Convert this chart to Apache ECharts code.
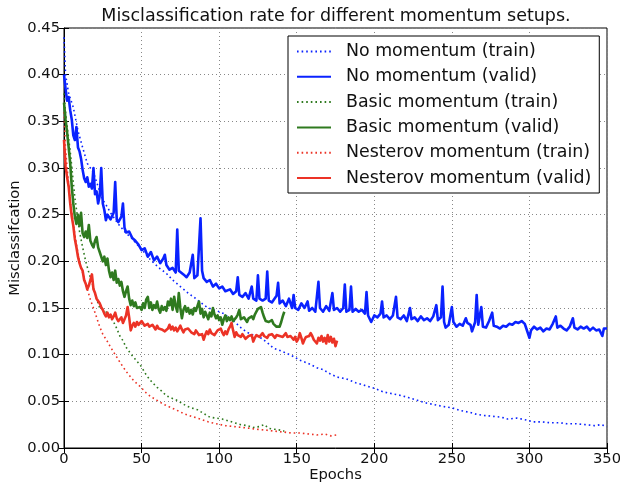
<!DOCTYPE html>
<html><head><meta charset="utf-8">
<script src="https://cdn.jsdelivr.net/npm/echarts@6/dist/echarts.min.js"></script>
<style>html,body{margin:0;padding:0;background:#fff}#c{width:620px;height:484px}</style>
</head><body><div id="c"></div>
<script>
// ---- data (epoch, misclassification) ----
const xTicks = [0, 50, 100, 150, 200, 250, 300, 350];
const yTicks = [0.00, 0.05, 0.10, 0.15, 0.20, 0.25, 0.30, 0.35, 0.40, 0.45];
const seriesNames = ['No momentum (train)', 'No momentum (valid)', 'Basic momentum (train)', 'Basic momentum (valid)', 'Nesterov momentum (train)', 'Nesterov momentum (valid)'];

const noMomTrain = [[0,0.440],[1,0.400],[3,0.380],[6,0.365],[9,0.340],[12,0.322],[15,0.305],[19,0.295],[22,0.280],[25,0.266],[28,0.258],[30,0.252],[35,0.240],[40,0.230],[43,0.226],[46,0.220],[50,0.213],[55,0.203],[58,0.198],[62,0.192],[66,0.187],[70,0.180],[75,0.173],[80,0.166],[85,0.160],[88,0.156],[92,0.151],[96,0.148],[100,0.146],[103,0.144],[106,0.140],[110,0.135],[114,0.129],[118,0.124],[122,0.121],[126,0.119],[131,0.113],[135,0.107],[140,0.104],[144,0.101],[148,0.098],[152,0.094],[157,0.091],[163,0.086],[167,0.084],[172,0.079],[176,0.076],[182,0.074],[188,0.070],[194,0.067],[200,0.064],[206,0.060],[212,0.058],[218,0.056],[222,0.054],[228,0.051],[234,0.048],[240,0.046],[246,0.044],[250,0.043],[256,0.040],[262,0.038],[266,0.036],[270,0.035],[276,0.034],[282,0.033],[286,0.031],[292,0.032],[298,0.030],[302,0.028],[308,0.028],[314,0.027],[320,0.027],[324,0.026],[330,0.026],[336,0.025],[342,0.024],[346,0.025],[350,0.023]];

const noMomValid = [[0,0.400],[1,0.385],[2,0.372],[3,0.376],[4,0.362],[5,0.352],[6,0.335],[7,0.330],[8,0.344],[9,0.322],[10,0.318],[11,0.310],[12,0.298],[13,0.289],[14,0.285],[15,0.290],[16,0.280],[17,0.283],[18,0.278],[19,0.300],[20,0.272],[21,0.275],[22,0.262],[23,0.270],[24,0.300],[25,0.262],[26,0.255],[27,0.244],[28,0.250],[29,0.248],[30,0.245],[32,0.252],[33,0.285],[34,0.245],[35,0.242],[36,0.240],[37,0.248],[38,0.262],[39,0.236],[40,0.231],[42,0.232],[44,0.225],[46,0.222],[48,0.218],[50,0.212],[52,0.214],[54,0.205],[56,0.210],[58,0.201],[60,0.205],[62,0.198],[64,0.203],[65,0.207],[66,0.196],[68,0.191],[70,0.193],[72,0.188],[73,0.234],[74,0.190],[75,0.188],[77,0.186],[79,0.183],[81,0.188],[83,0.207],[84,0.182],[86,0.185],[88,0.246],[89,0.190],[90,0.182],[92,0.178],[94,0.180],[96,0.173],[98,0.176],[100,0.171],[102,0.173],[104,0.168],[105,0.166],[107,0.170],[109,0.165],[111,0.168],[112,0.183],[113,0.164],[115,0.162],[117,0.166],[119,0.160],[121,0.173],[122,0.160],[124,0.158],[125,0.185],[126,0.160],[128,0.158],[130,0.160],[131,0.189],[132,0.158],[134,0.156],[135,0.155],[137,0.163],[138,0.177],[139,0.155],[141,0.158],[143,0.152],[145,0.160],[147,0.150],[148,0.164],[149,0.150],[151,0.148],[153,0.155],[155,0.150],[157,0.157],[158,0.147],[160,0.150],[162,0.146],[164,0.178],[165,0.150],[167,0.146],[169,0.152],[171,0.147],[173,0.166],[174,0.148],[176,0.150],[178,0.146],[180,0.150],[181,0.175],[182,0.146],[184,0.148],[185,0.173],[186,0.146],[188,0.149],[190,0.146],[192,0.148],[194,0.144],[195,0.167],[196,0.142],[198,0.135],[200,0.142],[202,0.140],[204,0.144],[205,0.157],[206,0.140],[208,0.142],[210,0.138],[212,0.142],[214,0.162],[215,0.140],[217,0.138],[219,0.142],[221,0.136],[223,0.150],[224,0.138],[226,0.140],[228,0.136],[230,0.141],[232,0.137],[234,0.139],[236,0.136],[238,0.141],[240,0.153],[241,0.137],[243,0.140],[244,0.173],[245,0.135],[246,0.129],[248,0.132],[250,0.151],[251,0.135],[253,0.130],[255,0.133],[257,0.131],[259,0.139],[260,0.134],[262,0.132],[263,0.125],[265,0.135],[266,0.164],[267,0.132],[269,0.151],[270,0.130],[272,0.129],[274,0.136],[276,0.145],[277,0.131],[279,0.130],[281,0.128],[283,0.131],[285,0.130],[287,0.133],[289,0.132],[291,0.135],[293,0.134],[295,0.136],[297,0.133],[298,0.128],[300,0.118],[301,0.126],[303,0.130],[305,0.127],[307,0.129],[309,0.125],[311,0.128],[313,0.127],[315,0.133],[317,0.141],[318,0.129],[320,0.131],[322,0.128],[324,0.126],[326,0.130],[328,0.139],[329,0.129],[331,0.127],[333,0.130],[335,0.128],[337,0.130],[339,0.126],[341,0.129],[343,0.126],[345,0.127],[347,0.120],[348,0.128],[350,0.128]];

const basicTrain = [[0,0.380],[1,0.360],[2,0.345],[4,0.318],[7,0.268],[10,0.232],[12,0.215],[14,0.200],[16,0.188],[19,0.172],[21,0.160],[23,0.150],[26,0.148],[30,0.140],[32,0.135],[34,0.128],[36,0.120],[38,0.115],[40,0.108],[43,0.101],[45,0.097],[47,0.093],[50,0.087],[52,0.081],[54,0.076],[57,0.070],[60,0.065],[63,0.061],[66,0.056],[70,0.053],[73,0.051],[76,0.048],[79,0.045],[82,0.043],[86,0.041],[90,0.037],[94,0.033],[98,0.032],[102,0.031],[106,0.029],[110,0.027],[114,0.025],[118,0.024],[122,0.022],[126,0.023],[129,0.025],[132,0.021],[136,0.020],[140,0.019],[142,0.018]];

const basicValid = [0.370,0.352,0.338,0.322,0.305,0.280,0.262,0.248,0.240,0.250,0.238,0.252,0.230,0.226,0.232,0.225,0.239,0.222,0.218,0.215,0.222,0.226,0.215,0.210,0.212,0.200,0.205,0.196,0.203,0.190,0.183,0.188,0.180,0.190,0.177,0.181,0.174,0.178,0.168,0.162,0.168,0.173,0.160,0.153,0.158,0.152,0.156,0.150,0.152,0.151,0.148,0.155,0.150,0.159,0.162,0.150,0.156,0.148,0.153,0.150,0.157,0.149,0.145,0.152,0.148,0.151,0.147,0.157,0.153,0.160,0.148,0.162,0.152,0.146,0.166,0.150,0.139,0.148,0.152,0.146,0.150,0.144,0.148,0.143,0.150,0.147,0.152,0.157,0.144,0.149,0.140,0.146,0.142,0.138,0.145,0.141,0.150,0.143,0.139,0.142,0.137,0.140,0.132,0.138,0.142,0.136,0.140,0.137,0.141,0.136,0.134,0.140,0.143,0.148,0.138,0.136,0.140,0.138,0.135,0.139,0.137,0.141,0.138,0.143,0.146,0.149,0.148,0.151,0.145,0.140,0.136,0.138,0.135,0.134,0.137,0.133,0.132,0.130,0.131,0.130,0.135,0.141,0.146];

const nesterovTrain = [[0,0.360],[1,0.320],[2,0.300],[4,0.265],[6,0.240],[8,0.218],[10,0.200],[12,0.188],[14,0.176],[17,0.159],[20,0.145],[23,0.130],[25,0.122],[28,0.114],[30,0.108],[33,0.100],[36,0.092],[38,0.087],[41,0.080],[45,0.072],[49,0.066],[53,0.059],[56,0.055],[60,0.051],[64,0.047],[68,0.044],[72,0.041],[77,0.037],[82,0.034],[88,0.031],[93,0.028],[98,0.026],[104,0.024],[109,0.023],[115,0.022],[120,0.021],[125,0.020],[131,0.019],[136,0.018],[142,0.017],[147,0.016],[152,0.016],[158,0.015],[163,0.014],[168,0.015],[172,0.013],[176,0.014]];

const nesterovValid = [0.330,0.302,0.290,0.280,0.262,0.248,0.238,0.224,0.215,0.205,0.198,0.193,0.190,0.180,0.176,0.170,0.174,0.180,0.186,0.170,0.166,0.160,0.158,0.155,0.151,0.148,0.144,0.141,0.145,0.140,0.143,0.138,0.141,0.145,0.139,0.136,0.137,0.140,0.134,0.138,0.142,0.151,0.140,0.126,0.131,0.134,0.130,0.135,0.132,0.134,0.136,0.135,0.131,0.129,0.133,0.130,0.128,0.132,0.130,0.127,0.131,0.128,0.130,0.127,0.129,0.125,0.123,0.128,0.132,0.127,0.130,0.126,0.129,0.125,0.128,0.131,0.127,0.124,0.127,0.125,0.128,0.128,0.124,0.126,0.122,0.126,0.124,0.121,0.119,0.122,0.116,0.121,0.125,0.122,0.127,0.123,0.125,0.121,0.123,0.126,0.124,0.128,0.124,0.121,0.125,0.122,0.127,0.130,0.134,0.126,0.119,0.124,0.121,0.123,0.119,0.122,0.120,0.117,0.116,0.120,0.118,0.121,0.114,0.118,0.121,0.123,0.119,0.121,0.123,0.120,0.122,0.118,0.121,0.119,0.122,0.120,0.118,0.121,0.123,0.120,0.122,0.119,0.121,0.123,0.119,0.117,0.120,0.118,0.116,0.119,0.114,0.117,0.123,0.118,0.112,0.116,0.119,0.117,0.120,0.123,0.120,0.116,0.118,0.112,0.118,0.115,0.120,0.114,0.118,0.112,0.121,0.114,0.119,0.113,0.117,0.109,0.115];

// ---- styling ----
const FONT = 'DejaVu Sans';
const BLUE = '#0a22ff', GREEN = '#2f7a1f', RED = '#ec3326';
const withEpochs = arr => arr.map((v, i) => [i, v]);
const trainDash = [1.6, 3];

function trainSeries(name, data, color) {
  return { name, type: 'line', data, showSymbol: false, symbol: 'none', silent: true,
    lineStyle: { color, width: 1.6, type: trainDash }, itemStyle: { color }, z: 2, animation: false };
}
function validSeries(name, data, color) {
  return { name, type: 'line', data, showSymbol: false, symbol: 'none', silent: true,
    lineStyle: { color, width: 2.6, join: 'round' }, itemStyle: { color }, z: 3, animation: false };
}

const chart = echarts.init(document.getElementById('c'), null, { renderer: 'canvas' });
const axisText = { color: '#111', fontFamily: FONT, fontSize: 14.7 };
const option = {
  backgroundColor: '#fff',
  animation: false,
  graphic: [{
    type: 'text', x: 336, y: 16, silent: true,
    style: { text: 'Misclassification rate for different momentum setups.', fill: '#111',
      font: '17.5px "DejaVu Sans"', textAlign: 'center', textVerticalAlign: 'middle' }
  }],
  grid: { left: 64, right: 13, top: 28, bottom: 36, outerBoundsMode: 'none', containLabel: false,
    show: true, borderColor: '#000', borderWidth: 1, backgroundColor: 'transparent' },
  legend: {
    orient: 'vertical', left: 288, top: 36,
    backgroundColor: '#fff', borderColor: '#000', borderWidth: 1,
    padding: [5.5, 8, 5, 8], itemGap: 5.3, itemWidth: 34, itemHeight: 14,
    itemStyle: { opacity: 0 },
    textStyle: { fontFamily: FONT, fontSize: 17.4, lineHeight: 20, color: '#111', padding: [0, 0, 0, 10] },
    data: seriesNames, selectedMode: false
  },
  xAxis: [{
    type: 'value', min: xTicks[0], max: xTicks[xTicks.length - 1], interval: 50,
    name: 'Epochs', nameLocation: 'middle', nameGap: 20, nameMoveOverlap: false,
    nameTextStyle: { fontFamily: FONT, fontSize: 14.7, color: '#111' },
    axisLine: { show: true, lineStyle: { color: '#000', width: 1 } },
    axisTick: { show: true, inside: true, length: 5, lineStyle: { color: '#000' } },
    axisLabel: Object.assign({ margin: 4, formatter: v => String(v) }, axisText),
    splitLine: { show: true, lineStyle: { color: '#888', width: 1, type: [1, 3] } }
  }, {
    type: 'value', position: 'top', min: xTicks[0], max: xTicks[xTicks.length - 1], interval: 50,
    axisLine: { show: false }, axisLabel: { show: false }, splitLine: { show: false },
    axisTick: { show: true, inside: true, length: 5, lineStyle: { color: '#000' } }
  }],
  yAxis: [{
    type: 'value', min: yTicks[0], max: yTicks[yTicks.length - 1], interval: 0.05,
    name: 'Misclassifcation', nameLocation: 'middle', nameGap: 41, nameRotate: 90, nameMoveOverlap: false,
    nameTextStyle: { fontFamily: FONT, fontSize: 14.7, color: '#111' },
    axisLine: { show: true, lineStyle: { color: '#000', width: 1 } },
    axisTick: { show: true, inside: true, length: 5, lineStyle: { color: '#000' } },
    axisLabel: Object.assign({ margin: 4, formatter: v => v.toFixed(2) }, axisText),
    splitLine: { show: true, lineStyle: { color: '#888', width: 1, type: [1, 3] } }
  }, {
    type: 'value', position: 'right', min: yTicks[0], max: yTicks[yTicks.length - 1], interval: 0.05,
    axisLine: { show: false }, axisLabel: { show: false }, splitLine: { show: false },
    axisTick: { show: true, inside: true, length: 5, lineStyle: { color: '#000' } }
  }],
  series: [
    trainSeries(seriesNames[0], noMomTrain, BLUE),
    validSeries(seriesNames[1], noMomValid, BLUE),
    trainSeries(seriesNames[2], basicTrain, GREEN),
    validSeries(seriesNames[3], withEpochs(basicValid), GREEN),
    trainSeries(seriesNames[4], nesterovTrain, RED),
    validSeries(seriesNames[5], withEpochs(nesterovValid), RED)
  ]
};
chart.setOption(option);
</script>
</body></html>
